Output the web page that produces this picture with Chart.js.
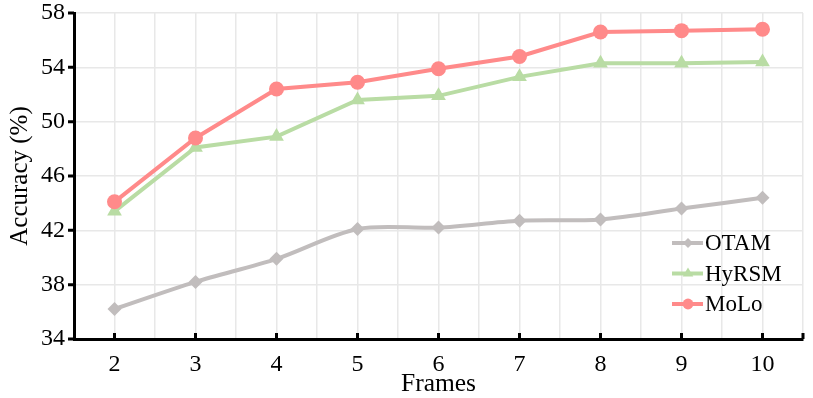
<!DOCTYPE html>
<html>
<head>
<meta charset="utf-8">
<script src="https://cdn.jsdelivr.net/npm/chart.js@4.4.0/dist/chart.umd.min.js"></script>
<style>
  html, body { margin: 0; padding: 0; background: #fff; }
  #wrap { width: 813px; height: 398px; }
</style>
</head>
<body>
<div id="wrap"><canvas id="lineChart"></canvas></div>
<script>
const frames = [2, 3, 4, 5, 6, 7, 8, 9, 10];
const otam  = [36.2, 38.2, 39.9, 42.1, 42.2, 42.7, 42.8, 43.6, 44.4];
const hyrsm = [43.4, 48.1, 48.9, 51.6, 51.9, 53.3, 54.3, 54.3, 54.4];
const molo  = [44.1, 48.8, 52.4, 52.9, 53.9, 54.8, 56.6, 56.7, 56.8];
const yTicks = [34, 38, 42, 46, 50, 54, 58];

const serif = "'Liberation Serif', 'Times New Roman', serif";
const grey = '#c1bdbd';
const green = '#b9dca4';
const red = '#ff8a8a';

const series = [
   { label: 'OTAM', values: otam, color: grey, style: 'rectRot', r: 7, tension: 0.3, order: 3 },
   { label: 'HyRSM', values: hyrsm, color: green, style: 'triangle', r: 8.5, tension: 0, order: 2 },
   { label: 'MoLo', values: molo, color: red, style: 'circle', r: 7.5, tension: 0, order: 1 },
];

// axis tick marks + legend with line-and-marker samples
const extras = {
   id: 'extras',
   afterDraw(chart) {
      const { ctx, scales: { x, y } } = chart;
      ctx.save();
      ctx.strokeStyle = '#000';
      ctx.lineWidth = 3;
      ctx.beginPath();
      frames.concat([10.5]).forEach(f => {
         const px = x.getPixelForValue(f);
         ctx.moveTo(px, y.bottom);
         ctx.lineTo(px, y.bottom - 6);
      });
      yTicks.forEach(v => {
         const py = y.getPixelForValue(v);
         ctx.moveTo(x.left, py);
         ctx.lineTo(x.left - 6, py);
      });
      ctx.stroke();

      const lx = 672, ly = 243, gap = 30.5;
      series.forEach((s, i) => {
         const cy = ly + i * gap;
         ctx.strokeStyle = s.color;
         ctx.fillStyle = s.color;
         ctx.lineWidth = 4;
         ctx.beginPath();
         ctx.moveTo(lx, cy);
         ctx.lineTo(lx + 31, cy);
         ctx.stroke();
         Chart.helpers.drawPoint(ctx, { pointStyle: s.style, radius: s.r * 0.72, rotation: 0, borderWidth: 0 }, lx + 16, cy);
         ctx.fillStyle = '#000';
         ctx.font = '23px ' + serif;
         ctx.textBaseline = 'middle';
         ctx.textAlign = 'left';
         ctx.fillText(s.label, lx + 33, cy + 1);
      });
      ctx.restore();
   }
};

const ctx = document.getElementById('lineChart').getContext('2d');

new Chart(ctx, {
   type: 'line',
   data: {
      datasets: series.map(s => ({
         label: s.label,
         data: frames.map((f, i) => ({ x: f, y: s.values[i] })),
         borderColor: s.color,
         backgroundColor: s.color,
         borderWidth: 4,
         pointStyle: s.style,
         pointRadius: s.r,
         pointBorderWidth: 0,
         tension: s.tension,
         order: s.order,
      })),
   },
   options: {
      responsive: true,
      maintainAspectRatio: false,
      animation: false,
      layout: { padding: { top: 13, right: 10, left: 0, bottom: 0 } },
      plugins: {
         legend: { display: false },
         tooltip: { enabled: false },
      },
      scales: {
         x: {
            type: 'linear',
            min: 1.5,
            max: 10.5,
            afterFit: s => { s.height = 59; s.paddingLeft = 0; s.paddingRight = 0; },
            border: { color: '#000', width: 3 },
            grid: { color: '#e8e8e8', lineWidth: 1.5, drawTicks: false },
            ticks: {
               stepSize: 0.5,
               padding: 11,
               color: '#000',
               font: { family: serif, size: 24 },
               maxRotation: 0,
               autoSkip: false,
               callback: v => Number.isInteger(v) ? String(v) : '',
            },
            title: {
               display: true,
               text: 'Frames',
               color: '#000',
               font: { family: serif, size: 25.5 },
               padding: { top: 0, bottom: -2 },
            },
         },
         y: {
            min: 34,
            max: 58,
            afterFit: s => { s.width = 74; s.paddingTop = 0; s.paddingBottom = 0; },
            border: { color: '#000', width: 3 },
            grid: { color: '#e8e8e8', lineWidth: 1.5, drawTicks: false },
            ticks: {
               stepSize: 4,
               padding: 9,
               color: '#000',
               font: { family: serif, size: 24 },
            },
            title: {
               display: true,
               text: 'Accuracy (%)',
               color: '#000',
               font: { family: serif, size: 25 },
               padding: { top: 5, bottom: 0 },
            },
         },
      },
   },
   plugins: [extras],
});
</script>
</body>
</html>
